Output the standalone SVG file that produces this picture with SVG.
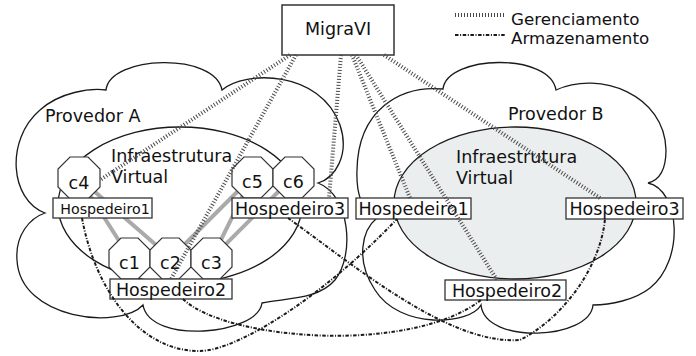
<svg xmlns="http://www.w3.org/2000/svg" width="696" height="356" viewBox="0 0 696 356">
<style>
text{font-family:"DejaVu Sans","Liberation Sans",sans-serif;fill:#111}
.t{font-size:17.5px}
.leg{font-size:16.7px}
.cloud{fill:none;stroke:#1a1a1a;stroke-width:1.3}
.oct{fill:#fff;stroke:#333;stroke-width:1.2}
.box{fill:#fff;stroke:#333;stroke-width:1.3}
.ger{fill:none;stroke:#4a4a4a;stroke-width:4;stroke-dasharray:1 2}
.arm{fill:none;stroke:#1a1a1a;stroke-width:2;stroke-dasharray:3.5 1.6 1 1.6}
.vm{fill:none;stroke:#aaa;stroke-width:4}
</style>
<rect width="696" height="356" fill="#fff"/>
<g id="legend">
<line class="ger" x1="455" y1="15" x2="505" y2="15"/>
<text class="leg" x="511" y="25">Gerenciamento</text>
<line class="arm" x1="455" y1="35" x2="505" y2="35"/>
<text class="leg" x="511" y="44">Armazenamento</text>
</g>
<g id="provedorA">
<path class="cloud" d="M106,90 C110,55 215,52 222,90 C245,70 320,70 340,125 C350,155 335,178 318,183 C350,195 355,255 335,280 C318,300 285,298 262,303 C258,335 150,345 143,305 C120,330 20,320 17,260 C15,235 30,218 45,213 C10,200 5,140 40,110 C60,92 90,88 106,90 Z"/>
<text class="t" x="45" y="122">Provedor A</text>
<ellipse cx="180" cy="205" rx="122" ry="78" fill="#fff" stroke="#1a1a1a" stroke-width="1.3"/>
<text class="t" x="111" y="162">Infraestrutura</text>
<text class="t" x="111" y="183">Virtual</text>
</g>
<g id="provedorB">
<path class="cloud" d="M443,89 C447,55 550,52 556,90 C600,70 665,95 666,150 C666,170 660,180 648,183 C680,190 685,260 650,288 C635,300 610,305 593,305 C590,340 485,345 481,305 C470,325 400,330 375,290 C355,260 362,230 377,218 C362,210 356,195 357,170 C358,110 400,85 443,89 Z"/>
<text class="t" x="508" y="120">Provedor B</text>
<ellipse cx="515" cy="203" rx="121" ry="76" fill="#ebeeef" stroke="#1a1a1a" stroke-width="1.3"/>
<text class="t" x="456" y="163">Infraestrutura</text>
<text class="t" x="456" y="184">Virtual</text>
</g>
<g id="vm-links">
<line class="vm" x1="79" y1="178" x2="130" y2="258"/>
<line class="vm" x1="79" y1="178" x2="171" y2="258"/>
<line class="vm" x1="252" y1="177" x2="171" y2="258"/>
<line class="vm" x1="252" y1="177" x2="212" y2="258"/>
<line class="vm" x1="293" y1="177" x2="212" y2="258"/>
</g>
<g id="c4"><polygon class="oct" points="70,157 88,157 100,169 100,187 88,199 70,199 58,187 58,169"/><text class="t" x="79" y="189" text-anchor="middle">c4</text></g>
<g id="c5"><polygon class="oct" points="244,157 261,157 273,169 273,186 261,198 244,198 232,186 232,169"/><text class="t" x="252.5" y="188" text-anchor="middle">c5</text></g>
<g id="c6"><polygon class="oct" points="285,157 302,157 314,169 314,186 302,198 285,198 273,186 273,169"/><text class="t" x="293.5" y="188" text-anchor="middle">c6</text></g>
<g id="c1"><polygon class="oct" points="121,238 138,238 150,250 150,267 138,279 121,279 109,267 109,250"/><text class="t" x="129.5" y="269" text-anchor="middle">c1</text></g>
<g id="c2"><polygon class="oct" points="162,238 179,238 191,250 191,267 179,279 162,279 150,267 150,250"/><text class="t" x="170.5" y="269" text-anchor="middle">c2</text></g>
<g id="c3"><polygon class="oct" points="203,238 220,238 232,250 232,267 220,279 203,279 191,267 191,250"/><text class="t" x="211.5" y="269" text-anchor="middle">c3</text></g>
<g id="hA1"><rect class="box" x="53" y="198" width="99" height="20"/><text x="105" y="214" font-size="14.2" text-anchor="middle">Hospedeiro1</text></g>
<g id="hA3"><rect class="box" x="232" y="198" width="116" height="20"/><text class="t" x="290" y="215" text-anchor="middle">Hospedeiro3</text></g>
<g id="hA2"><rect class="box" x="110" y="279" width="122" height="20"/><text class="t" x="171" y="296" text-anchor="middle">Hospedeiro2</text></g>
<g id="hB1"><rect class="box" x="356" y="198" width="115" height="21"/><text class="t" x="413.5" y="215" text-anchor="middle">Hospedeiro1</text></g>
<g id="hB3"><rect class="box" x="566" y="198" width="117" height="21"/><text class="t" x="624.5" y="215" text-anchor="middle">Hospedeiro3</text></g>
<g id="hB2"><rect class="box" x="445" y="280" width="121" height="20"/><text class="t" x="507" y="297" text-anchor="middle">Hospedeiro2</text></g>
<g id="migravi"><rect x="282" y="5" width="112" height="50" fill="#fff" stroke="#333" stroke-width="1.5"/><text class="t" x="338" y="35" text-anchor="middle">MigraVI</text></g>
<g id="connectors">
<line class="ger" x1="290" y1="55" x2="100" y2="180"/>
<line class="ger" x1="296" y1="55" x2="171" y2="279"/>
<line class="ger" x1="341" y1="55" x2="329" y2="198"/>
<line class="ger" x1="352" y1="55" x2="410" y2="198"/>
<line class="ger" x1="356" y1="55" x2="497" y2="280"/>
<line class="ger" x1="384" y1="55" x2="600" y2="198"/>
<path class="arm" d="M82,218 C95,290 140,352 200,351 C235,351 320,300 397,219"/>
<path class="arm" d="M183,299 C225,340 410,355 481,300"/>
<path class="arm" d="M288,218 C360,270 450,345 520,340 C560,320 600,270 605,219"/>
</g>
</svg>
